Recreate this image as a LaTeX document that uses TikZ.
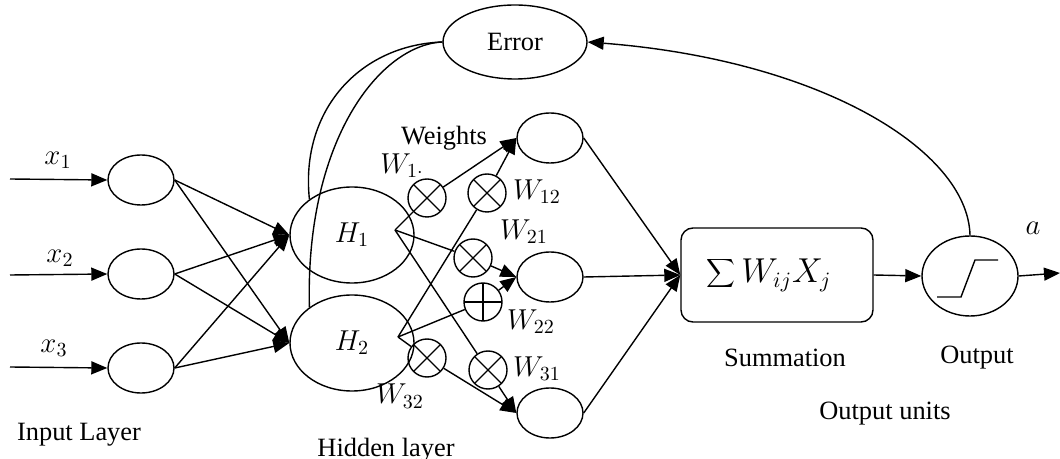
\documentclass[tikz,border=0pt]{standalone}
\usepackage{fontspec}
\setmainfont{Liberation Serif}
\usetikzlibrary{arrows.meta,positioning,shapes.geometric}

\begin{document}
\begin{tikzpicture}[
			x=0.5pt, y=-0.5pt,
			line width=0.7pt,
			font=\fontsize{13.2}{15}\selectfont,
			unit/.style={
				ellipse,
				draw,
				inner sep=0pt,
				minimum width=33pt,
				minimum height=25pt
			},
			hidnode/.style={
				ellipse,
				draw,
				inner sep=0pt,
				minimum width=62pt,
				minimum height=48pt,
				font=\fontsize{14}{16}\selectfont
			},
			mulnode/.style={
				circle,
				draw,
				inner sep=0pt,
				minimum size=19pt,
				path picture={
					\draw (path picture bounding box.north west) -- (path picture bounding box.south east)
					(path picture bounding box.north east) -- (path picture bounding box.south west);
				}
			},
			addnode/.style={
				circle,
				draw,
				inner sep=0pt,
				minimum size=19pt,
				path picture={
					\draw (path picture bounding box.north) -- (path picture bounding box.south)
					(path picture bounding box.west) -- (path picture bounding box.east);
				}
			},
			wlabel/.style={
				inner sep=0pt,
				font=\fontsize{14}{16}\selectfont
			},
			arrow/.style={
				-{Triangle[length=8pt,width=6.5pt]}
			}
			]
			\useasboundingbox (0,0) rectangle (1060,459);
			
			% input layer
			\node[unit] (x1) at (141,180) {};
			\node[unit] (x2) at (141,274) {};
			\node[unit] (x3) at (141,368) {};
			\coordinate (in1) at (10,179);
			\coordinate (in2) at (10,275);
			\coordinate (in3) at (10,367);
			\node[wlabel] (lx1) at (58,160) {$x_1$};
			\node[wlabel] (lx2) at (60,258) {$x_2$};
			\node[wlabel] (lx3) at (54,348) {$x_3$};
			\node (inlayer) at (79,435) {Input Layer};
			
			% hidden layer
			\node[hidnode] (h1) at (352,235) {$H_1$};
			\node[hidnode] (h2) at (352,343) {$H_2$};
			\coordinate (h1p) at (395,230);
			\coordinate (h2p) at (398,337);
			\node (hidlayer) at (386,450) {Hidden layer};
			
			% error
			\node[ellipse, draw, inner sep=0pt, minimum width=72pt, minimum height=37pt] (err) at (515,42) {Error};
			
			% weights
			\node[mulnode] (w11) at (427,198) {};
			\node[mulnode] (w12) at (487,193) {};
			\node[mulnode] (w21) at (473,258) {};
			\node[addnode] (w22) at (483,302) {};
			\node[mulnode] (w32) at (427,358) {};
			\node[mulnode] (w31) at (488,370) {};
			\node (weights) at (444,138) {Weights};
			\node[wlabel] (lw11) at (402,166) {$W_{1\cdot}$};
			\node[wlabel] (lw12) at (537,192) {$W_{12}$};
			\node[wlabel] (lw21) at (524,232) {$W_{21}$};
			\node[wlabel] (lw22) at (531,322) {$W_{22}$};
			\node[wlabel] (lw31) at (537,369) {$W_{31}$};
			\node[wlabel] (lw32) at (400,396) {$W_{32}$};
			
			% output units
			\node[unit] (o1) at (550,138) {};
			\node[unit] (o2) at (550,277) {};
			\node[unit] (o3) at (550,413) {};
			\node[rectangle, draw, rounded corners=6pt, minimum width=96pt, minimum height=47pt,
			font=\fontsize{16}{19}\selectfont] (sum) at (777,275) {$\displaystyle\sum W_{ij} X_j$\hspace*{8pt}};
			\node[ellipse, draw, inner sep=0pt, minimum width=48pt, minimum height=40pt] (sig) at (970,276) {};
			\coordinate (aout) at (1060,273);
			\node[wlabel] (la) at (1033,228) {$a$};
			\node (summ) at (785,358) {Summation};
			\node (outp) at (977,358) {Output};
			\node (outunits) at (885,414) {Output units};
			
			\draw ([shift={(-33,21)}]sig.center) -- ++(24,0) -- ++(14,-37) -- ++(23,0);
			
			\draw[arrow] (in1) -- (x1.west);
			\draw[arrow] (in2) -- (x2.west);
			\draw[arrow] (in3) -- (x3.west);
			\foreach \i in {1,2,3} {
				\draw[arrow] (x\i.east) -- (h1.west);
				\draw[arrow] (x\i.east) -- (h2.west);
			}
			
			\draw (h1p) -- (w11);
			\draw (h1p) -- (w21);
			\draw (h1p) -- (w31);
			\draw (h2p) -- (w12);
			\draw (h2p) -- (w22);
			\draw (h2p) -- (w32);
			\draw[arrow] (w11) -- (o1.west);
			\draw[arrow] (w12) -- (o1.west);
			\draw[arrow] (w21) -- (o2.west);
			\draw[arrow] (w22) -- (o2.west);
			\draw[arrow] (w31) -- (o3.west);
			\draw[arrow] (w32) -- (o3.west);
			
			\draw[arrow] (o1.east) -- (sum.west);
			\draw[arrow] (o2.east) -- (sum.west);
			\draw[arrow] (o3.east) -- (sum.west);
			\draw[arrow] (sum.east) -- (sig.west);
			\draw[arrow] (sig.east) -- (aout);
			
			\draw[arrow] (sig.north) .. controls (968,150) and (820,60) .. (err.east);
			\draw (err.west) .. controls (360,45) and (300,110) .. (h1.140);
			\draw (err.west) .. controls (380,45) and (305,140) .. (h2.140);
		\end{tikzpicture}
\end{document}
